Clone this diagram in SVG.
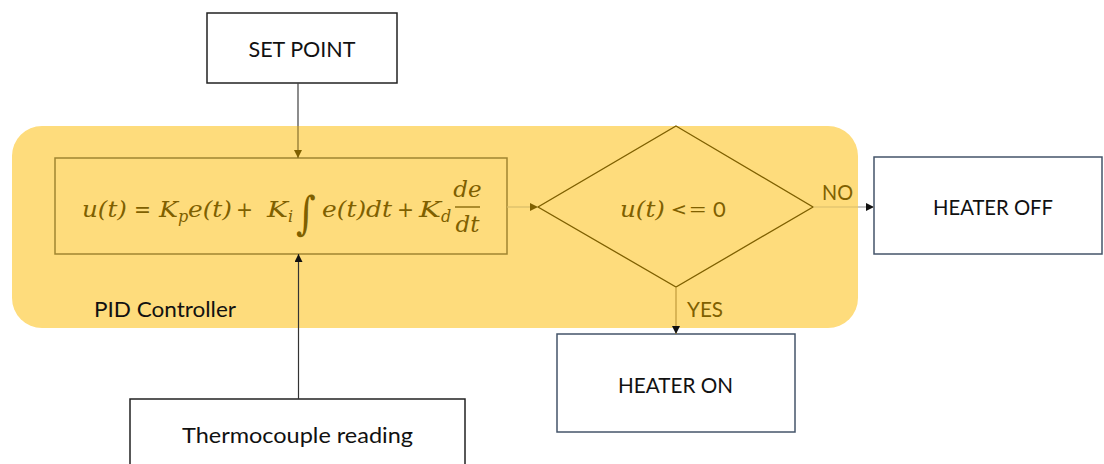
<svg xmlns="http://www.w3.org/2000/svg" width="1104" height="464" viewBox="0 0 1104 464">
<defs>
<style>
.box{fill:#fff;stroke:#222;stroke-width:1.5}
.hbox{fill:#fff;stroke:#44546A;stroke-width:1.5}
.lbl{font-family:Lato,"Liberation Sans",sans-serif;font-size:22px;fill:#111}
.glbl{font-family:Lato,"Liberation Sans",sans-serif;font-size:22px;fill:#7F6000}
.m{font-family:"DejaVu Serif",serif;font-style:italic;font-size:23px;fill:#7F6000}
.mu{font-family:"DejaVu Sans",sans-serif;font-size:22px;fill:#7F6000}
.sub{font-family:"DejaVu Serif",serif;font-style:italic;font-size:16px;fill:#7F6000}
.ln{fill:none;stroke-width:1.2}
</style>
<marker id="ahK" viewBox="0 0 10 10" refX="10" refY="5" markerWidth="9" markerHeight="8" markerUnits="userSpaceOnUse" orient="auto"><path d="M0,0L10,5L0,10z" fill="#111"/></marker>
<marker id="ahG" viewBox="0 0 10 10" refX="10" refY="5" markerWidth="9" markerHeight="8" markerUnits="userSpaceOnUse" orient="auto"><path d="M0,0L10,5L0,10z" fill="#7F6000"/></marker>
</defs>
<rect width="1104" height="464" fill="#fff"/>

<g id="pid-controller">
<rect x="12" y="126" width="846" height="202" rx="30" ry="30" fill="#FEDC7C"/>
<text class="lbl" x="94" y="317" textLength="142" lengthAdjust="spacingAndGlyphs">PID Controller</text>
</g>

<g id="set-point">
<rect class="box" x="207" y="13" width="190" height="70"/>
<text class="lbl" x="302" y="57" text-anchor="middle" textLength="107" lengthAdjust="spacingAndGlyphs">SET POINT</text>
</g>

<g id="pid-formula">
<rect x="55" y="158" width="452" height="96" fill="none" stroke="#A08530" stroke-width="1.5"/>
<text class="m" x="82" y="217" textLength="45" lengthAdjust="spacingAndGlyphs">u(t)</text>
<text class="mu" x="134" y="217" textLength="17" lengthAdjust="spacingAndGlyphs">=</text>
<text class="m" x="159" y="217" textLength="19" lengthAdjust="spacingAndGlyphs">K</text>
<text class="sub" x="178" y="222">p</text>
<text class="m" x="188" y="217" textLength="44" lengthAdjust="spacingAndGlyphs">e(t)</text>
<text class="mu" x="236" y="217" textLength="17" lengthAdjust="spacingAndGlyphs">+</text>
<text class="m" x="267" y="217" textLength="21" lengthAdjust="spacingAndGlyphs">K</text>
<text class="sub" x="288" y="222">i</text>
<text x="296" y="228" font-family="DejaVu Serif,serif" font-size="38" fill="#7F6000" transform="translate(0,-45) scale(1,1.2)">∫</text>
<text class="m" x="322" y="217" textLength="70" lengthAdjust="spacingAndGlyphs">e(t)dt</text>
<text class="mu" x="397" y="217" textLength="17" lengthAdjust="spacingAndGlyphs">+</text>
<text class="m" x="419" y="217" textLength="22" lengthAdjust="spacingAndGlyphs">K</text>
<text class="sub" x="441" y="222">d</text>
<text class="m" x="467.5" y="197" text-anchor="middle">de</text>
<line x1="455" y1="207" x2="480" y2="207" stroke="#7F6000" stroke-width="1.3"/>
<text class="m" x="467.5" y="232" text-anchor="middle">dt</text>
</g>

<g id="decision">
<polygon points="676,126 813,207 676,287 538,207" fill="none" stroke="#7F6000" stroke-width="1.3"/>
<text class="m" x="620" y="217" textLength="45" lengthAdjust="spacingAndGlyphs">u(t)</text>
<text class="glbl" x="670" y="217" textLength="37" lengthAdjust="spacingAndGlyphs">&lt;=</text>
<text class="glbl" x="713" y="217">0</text>
</g>

<g id="heater-off">
<rect class="hbox" x="874" y="157" width="228" height="97"/>
<text class="lbl" x="993" y="215" text-anchor="middle" textLength="120" lengthAdjust="spacingAndGlyphs">HEATER OFF</text>
</g>

<g id="heater-on">
<rect class="hbox" x="557" y="334" width="238" height="98"/>
<text class="lbl" x="675.5" y="393" text-anchor="middle" textLength="115" lengthAdjust="spacingAndGlyphs">HEATER ON</text>
</g>

<g id="thermocouple">
<rect class="box" x="130" y="399" width="335" height="70"/>
<text class="lbl" x="297.5" y="443" text-anchor="middle" textLength="231" lengthAdjust="spacingAndGlyphs">Thermocouple reading</text>
</g>

<g id="connectors">
<line class="ln" x1="298" y1="83" x2="298" y2="126" stroke="#404040"/>
<line class="ln" x1="298" y1="126" x2="298" y2="158" stroke="#86702C" marker-end="url(#ahG)"/>
<line class="ln" x1="298.5" y1="399" x2="298.5" y2="254" stroke="#333" marker-end="url(#ahK)"/>
<line class="ln" x1="507" y1="207" x2="538" y2="207" stroke="#D8BC6A" marker-end="url(#ahG)"/>
<line class="ln" x1="813" y1="207" x2="858" y2="207" stroke="#D8BC6A"/>
<line class="ln" x1="858" y1="207" x2="874" y2="207" stroke="#A6A6A6" marker-end="url(#ahK)"/>
<text class="glbl" x="822" y="200" textLength="31" lengthAdjust="spacingAndGlyphs">NO</text>
<line class="ln" x1="676" y1="287" x2="676" y2="334" stroke="#C09A3C" marker-end="url(#ahK)"/>
<text class="glbl" x="687" y="317" textLength="36" lengthAdjust="spacingAndGlyphs">YES</text>
</g>
</svg>
